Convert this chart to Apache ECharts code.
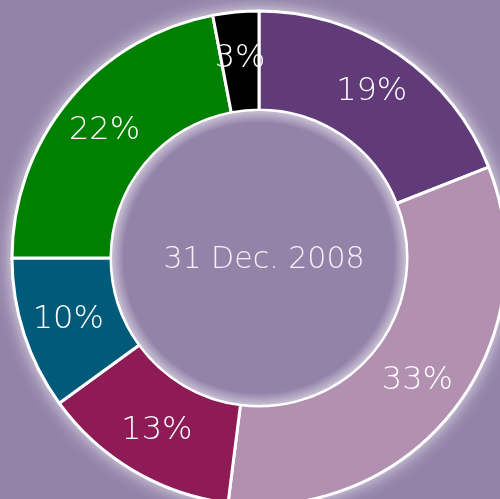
<!DOCTYPE html>
<html>
<head>
<meta charset="utf-8">
<script src="https://cdn.jsdelivr.net/npm/echarts@6/dist/echarts.min.js"></script>
<style>
  html, body { margin: 0; padding: 0; background: #9383a9; }
  #chart { width: 500px; height: 499px; }
</style>
</head>
<body>
<div id="chart"></div>
<script>
// 数据
var names = ["A", "B", "C", "D", "E", "F"];
var values = [19, 33, 13, 10, 22, 3];
var colors = ["#613a7a", "#b290b0", "#8e1a56", "#015a7a", "#008000", "#000000"];
var centerText = "31 Dec. 2008";

var chart = echarts.init(document.getElementById("chart"));
var pieData = names.map(function (n, i) {
  return { name: n, value: values[i], itemStyle: { color: colors[i] } };
});

chart.setOption({
  backgroundColor: "#9383a9",
  animation: false,
  title: {
    text: centerText,
    left: 259,
    top: 240,
    textAlign: "center",
    textStyle: {
      color: "#f6f0f8",
      fontSize: 30,
      fontWeight: 200,
      fontFamily: "DejaVu Sans"
    }
  },
  series: [
    {
      // 外面的白色光晕，放在最下面
      type: "pie",
      center: [259, 258],
      radius: [148, 247],
      silent: true,
      z: 1,
      label: { show: false },
      labelLine: { show: false },
      data: [{
        value: 1,
        itemStyle: {
          color: "#ffffff",
          shadowBlur: 18,
          shadowColor: "rgba(255,255,255,0.9)"
        }
      }]
    },
    {
      type: "pie",
      center: [259, 258],
      radius: [148, 247],
      startAngle: 90,
      clockwise: true,
      silent: true,
      z: 2,
      data: pieData,
      itemStyle: {
        borderColor: "#ffffff",
        borderWidth: 3
      },
      label: {
        show: true,
        position: "inside",
        formatter: "{c}%",
        color: "#ffffff",
        fontSize: 32,
        fontWeight: 200,
        fontFamily: "DejaVu Sans"
      },
      labelLine: { show: false }
    },
    {
      // 中间的圆，带一点内发光
      type: "pie",
      center: [259, 258],
      radius: [0, 147],
      silent: true,
      z: 3,
      label: { show: false },
      labelLine: { show: false },
      data: [{
        value: 1,
        itemStyle: {
          color: {
            type: "radial", x: 0.5, y: 0.5, r: 0.5,
            colorStops: [
              { offset: 0, color: "#9383a9" },
              { offset: 0.92, color: "#9383a9" },
              { offset: 1, color: "#c8bfd4" }
            ]
          }
        }
      }]
    }
  ]
});
</script>
</body>
</html>
